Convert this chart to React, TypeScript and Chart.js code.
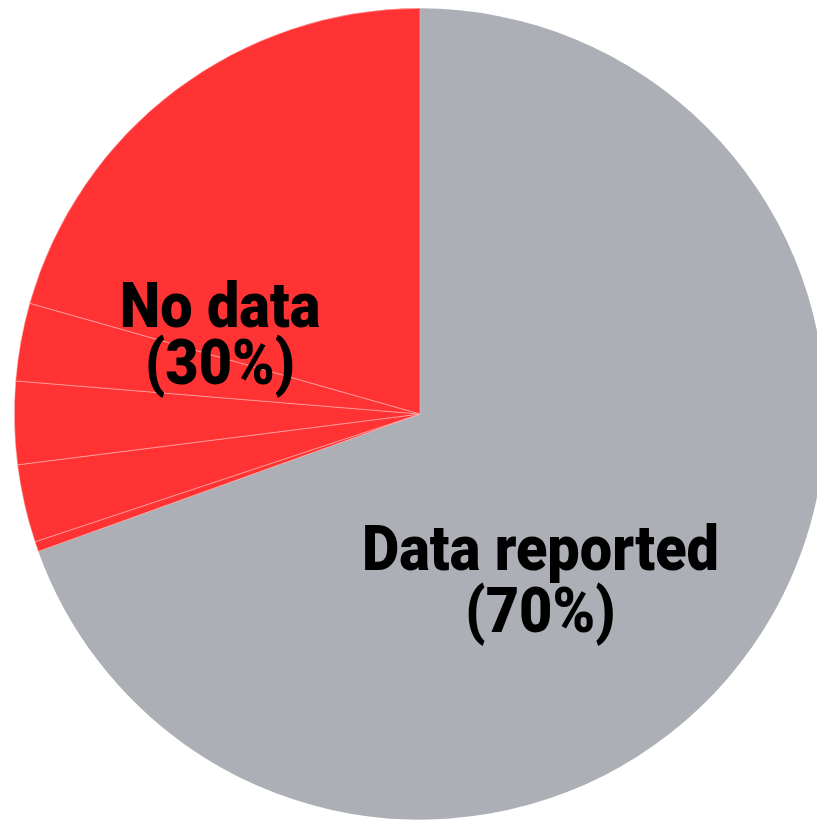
import React, { useEffect, useRef } from "react";
import { Chart, registerables } from "chart.js";

Chart.register(...registerables);

// Slices clockwise from 12 o'clock
const sliceLabels = ["Data reported", "No data A", "No data B", "No data C", "No data D", "No data E"];
const sliceValues = [69.5, 0.4, 3.1, 3.3, 3.1, 20.6];
const sliceColors = ["#adafb6", "#ff3333", "#ff3333", "#ff3333", "#ff3333", "#ff3333"];
const sliceBorderWidths = [0, 0.7, 0.7, 0.7, 0.7, 0.7];

const annotationLines = [
  ["No data", "(30%)"],
  ["Data reported", "(70%)"],
];
// text centre x and first baseline y, relative to the pie centre, as fractions of the radius
const annotationOffsets = [
  [-0.493, -0.215],
  [0.297, 0.384],
];
const lineSpacing = [0.14, 0.153];

const labelPlugin = {
  id: "pieLabels",
  afterDraw(chart: any) {
    const meta = chart.getDatasetMeta(0);
    const arc = meta.data[0];
    if (!arc) return;
    const { x, y, outerRadius } = arc.getProps(["x", "y", "outerRadius"], true);
    const ctx = chart.ctx;
    ctx.save();
    ctx.fillStyle = "#000000";
    ctx.textAlign = "center";
    ctx.textBaseline = "alphabetic";
    ctx.font = "900 63px Roboto, 'Noto Sans', sans-serif";
    const ref = ctx.measureText("Data reported").width;
    const sx = (0.88 * outerRadius) / ref;
    annotationLines.forEach((lines, i) => {
      const cx = x + annotationOffsets[i][0] * outerRadius;
      const by = y + annotationOffsets[i][1] * outerRadius;
      lines.forEach((t, j) => {
        ctx.save();
        ctx.translate(cx, by + j * lineSpacing[i] * outerRadius);
        ctx.scale(sx, 1);
        ctx.fillText(t, 0, 0);
        ctx.restore();
      });
    });
    ctx.restore();
  },
};

export default function App() {
  const ref = useRef<HTMLCanvasElement>(null);
  useEffect(() => {
    if (!ref.current) return;
    const chart = new Chart(ref.current, {
      type: "pie",
      data: {
        labels: sliceLabels,
        datasets: [
          {
            data: sliceValues,
            backgroundColor: sliceColors,
            borderColor: "rgba(255,190,190,0.75)",
            borderWidth: sliceBorderWidths,
          },
        ],
      },
      options: {
        responsive: false,
        animation: false,
        layout: { padding: 0 },
        plugins: {
          legend: { display: false },
          tooltip: { enabled: false },
          title: { display: false },
        },
      },
      plugins: [labelPlugin],
    });
    return () => chart.destroy();
  }, []);
  return (
    <div style={{ position: "fixed", left: 0, top: 0, width: 817, height: 821, overflow: "hidden", background: "#ffffff" }}>
      <canvas
        ref={ref}
        width={824}
        height={812}
        style={{ position: "absolute", left: 8, top: 8, display: "block", width: 824, height: 812 }}
      />
    </div>
  );
}
